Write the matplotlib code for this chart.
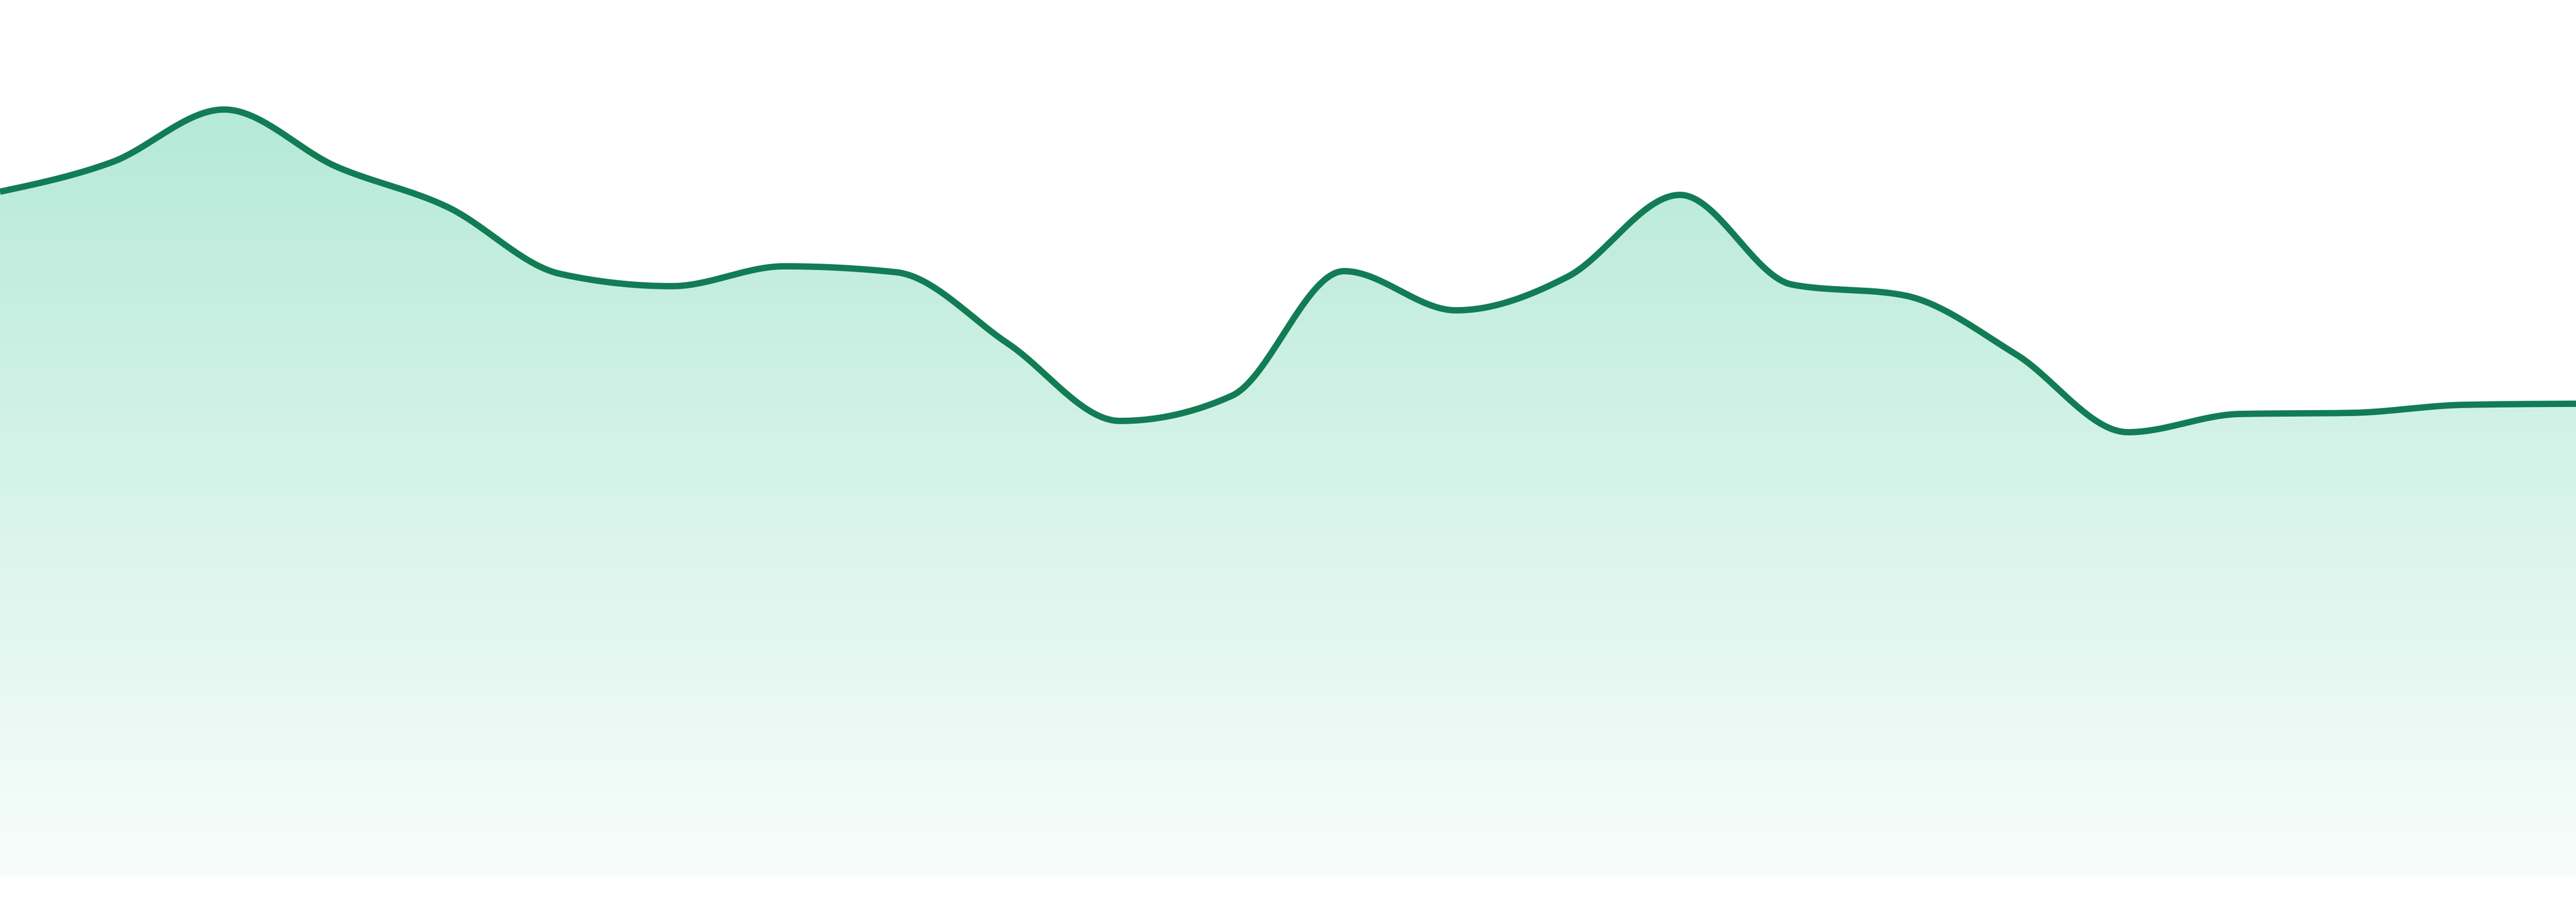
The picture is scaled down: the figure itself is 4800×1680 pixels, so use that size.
import numpy as np
import matplotlib
matplotlib.use('Agg')
import matplotlib.pyplot as plt
from matplotlib.colors import to_rgb

# series values (one point every step along x)
steps = list(range(24))
values = [127.5, 133.0, 142.8, 132.2, 124.6, 112.2, 109.9, 113.6,
          112.5, 99.2, 84.8, 89.5, 112.7, 105.4, 111.7, 126.9,
          110.2, 108.2, 97.2, 82.7, 86.1, 86.3, 87.8, 88.0]

line_color = '#127c55'
fill_color = '#10b981'


# monotone cubic (same idea as d3 curveMonotoneX)
def monotone_curve(x, y, n=40):
    x = np.asarray(x, float)
    y = np.asarray(y, float)
    h = np.diff(x)
    s = np.diff(y) / h
    t = np.zeros_like(y)
    for i in range(1, len(x) - 1):
        p = (s[i - 1] * h[i] + s[i] * h[i - 1]) / (h[i - 1] + h[i])
        t[i] = (np.sign(s[i - 1]) + np.sign(s[i])) * min(abs(s[i - 1]), abs(s[i]), 0.5 * abs(p))
    t[0] = (3 * s[0] - t[1]) / 2
    t[-1] = (3 * s[-1] - t[-2]) / 2
    xs, ys = [], []
    for i in range(len(x) - 1):
        u = np.linspace(0, 1, n, endpoint=False)
        h00 = 2 * u**3 - 3 * u**2 + 1
        h10 = u**3 - 2 * u**2 + u
        h01 = -2 * u**3 + 3 * u**2
        h11 = u**3 - u**2
        xs.append(x[i] + u * h[i])
        ys.append(h00 * y[i] + h10 * h[i] * t[i] + h01 * y[i + 1] + h11 * h[i] * t[i + 1])
    xs.append([x[-1]])
    ys.append([y[-1]])
    return np.concatenate(xs), np.concatenate(ys)


cx, cy = monotone_curve(steps, values)

fig = plt.figure(figsize=(48, 16.8), dpi=100)
ax = fig.add_axes([0, 0, 1, 1])
ax.set_xlim(0, 23)
ax.set_ylim(-4.8, 163.2)
ax.axis('off')

# gradient fill under the curve
poly = ax.fill_between(cx, 0, cy, color='none', lw=0)
r, g, b = to_rgb(fill_color)
grad = np.zeros((256, 1, 4))
grad[:, 0, 0] = r
grad[:, 0, 1] = g
grad[:, 0, 2] = b
grad[:, 0, 3] = np.linspace(0.31, 0.03, 256)
img = ax.imshow(grad, extent=[0, 23, 0, max(values)], aspect='auto',
                origin='upper', zorder=1)
img.set_clip_path(poly.get_paths()[0], transform=ax.transData)

ax.plot(cx, cy, color=line_color, lw=8.5, solid_capstyle='butt', zorder=2)

fig.savefig('out.png', dpi=100, facecolor='white')
